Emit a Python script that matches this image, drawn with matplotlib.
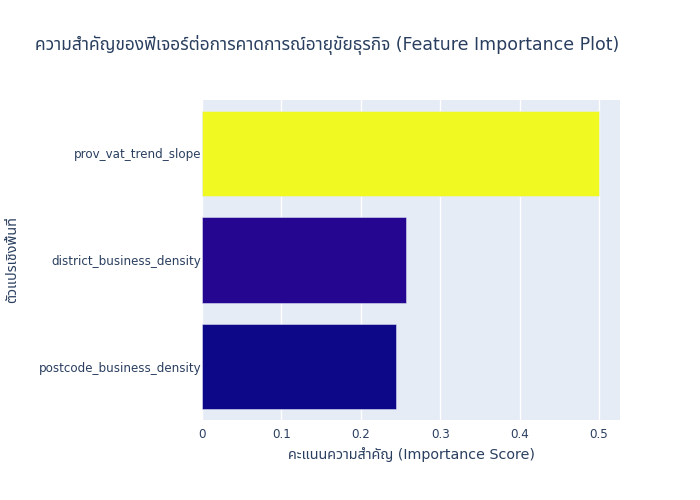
import matplotlib
matplotlib.use("Agg")
import matplotlib.pyplot as plt
from matplotlib import font_manager
import numpy as np

features = ["postcode_business_density", "district_business_density", "prov_vat_trend_slope"]
importance = [0.2441, 0.2565, 0.4994]
x_ticks = [0, 0.1, 0.2, 0.3, 0.4, 0.5]
x_tick_labels = ["0", "0.1", "0.2", "0.3", "0.4", "0.5"]
title = "ความสำคัญของฟีเจอร์ต่อการคาดการณ์อายุขัยธุรกิจ (Feature Importance Plot)"
x_title = "คะแนนความสำคัญ (Importance Score)"
y_title = "ตัวแปรเชิงพื้นที่"

# find a font with Thai glyphs
thai_font = None
try:
    from fontTools.ttLib import TTFont
    cands = []
    for f in font_manager.fontManager.ttflist:
        try:
            tt = TTFont(f.fname, fontNumber=0, lazy=True)
            cmap = tt.getBestCmap()
            if cmap and 0x0E01 in cmap and 0x0E33 in cmap:
                cands.append(f.name)
        except Exception:
            pass
    pref = ["Tahoma", "Noto Sans Thai", "Loma", "Garuda", "Norasi"]
    for p in pref:
        if p in cands:
            thai_font = p
            break
    if thai_font is None and cands:
        thai_font = sorted(cands)[0]
except Exception:
    pass

fams = ["DejaVu Sans"]
if thai_font:
    fams.append(thai_font)
plt.rcParams["font.family"] = fams

TXT = "#2a3f5f"
plasma = ['#0d0887', '#46039f', '#7201a8', '#9c179e', '#bd3786', '#d8576b',
          '#ed7953', '#fb9f3a', '#fdca26', '#f0f921']
cmap = matplotlib.colors.LinearSegmentedColormap.from_list("pl", plasma)
vmin, vmax = min(importance), max(importance)
colors = [cmap((v - vmin) / (vmax - vmin)) for v in importance]

fig = plt.figure(figsize=(7, 5), dpi=100)
ax = fig.add_axes([202/700, 1-420/500, 418/700, 320/500])
ax.set_facecolor("#E5ECF6")
y = np.arange(len(features))
ax.barh(y, importance, height=0.8, color=colors, edgecolor="#E5ECF6", linewidth=0.36, zorder=3)
ax.set_xlim(0, 0.5264)
ax.set_ylim(-0.5, len(features) - 0.5)
ax.set_xticks(x_ticks)
ax.set_xticklabels(x_tick_labels)
ax.set_yticks(y)
ax.set_yticklabels(features)
ax.grid(axis="x", color="white", linewidth=1, zorder=1)
ax.set_axisbelow(True)
for s in ax.spines.values():
    s.set_visible(False)
ax.tick_params(axis="both", length=0, labelsize=8.6, colors=TXT)
ax.tick_params(axis="x", pad=6)
ax.tick_params(axis="y", pad=0.5)
fig.text(411/700, 1-455/500, x_title, ha="center", va="center", fontsize=10.3, color=TXT)
fig.text(12/700, 1-260/500, y_title, ha="center", va="center", rotation=90, fontsize=10.3, color=TXT)
fig.text(35/700, 1-45/500, title, ha="left", va="center", fontsize=12.5, color=TXT)
fig.savefig("out.png", dpi=100, facecolor="white")
